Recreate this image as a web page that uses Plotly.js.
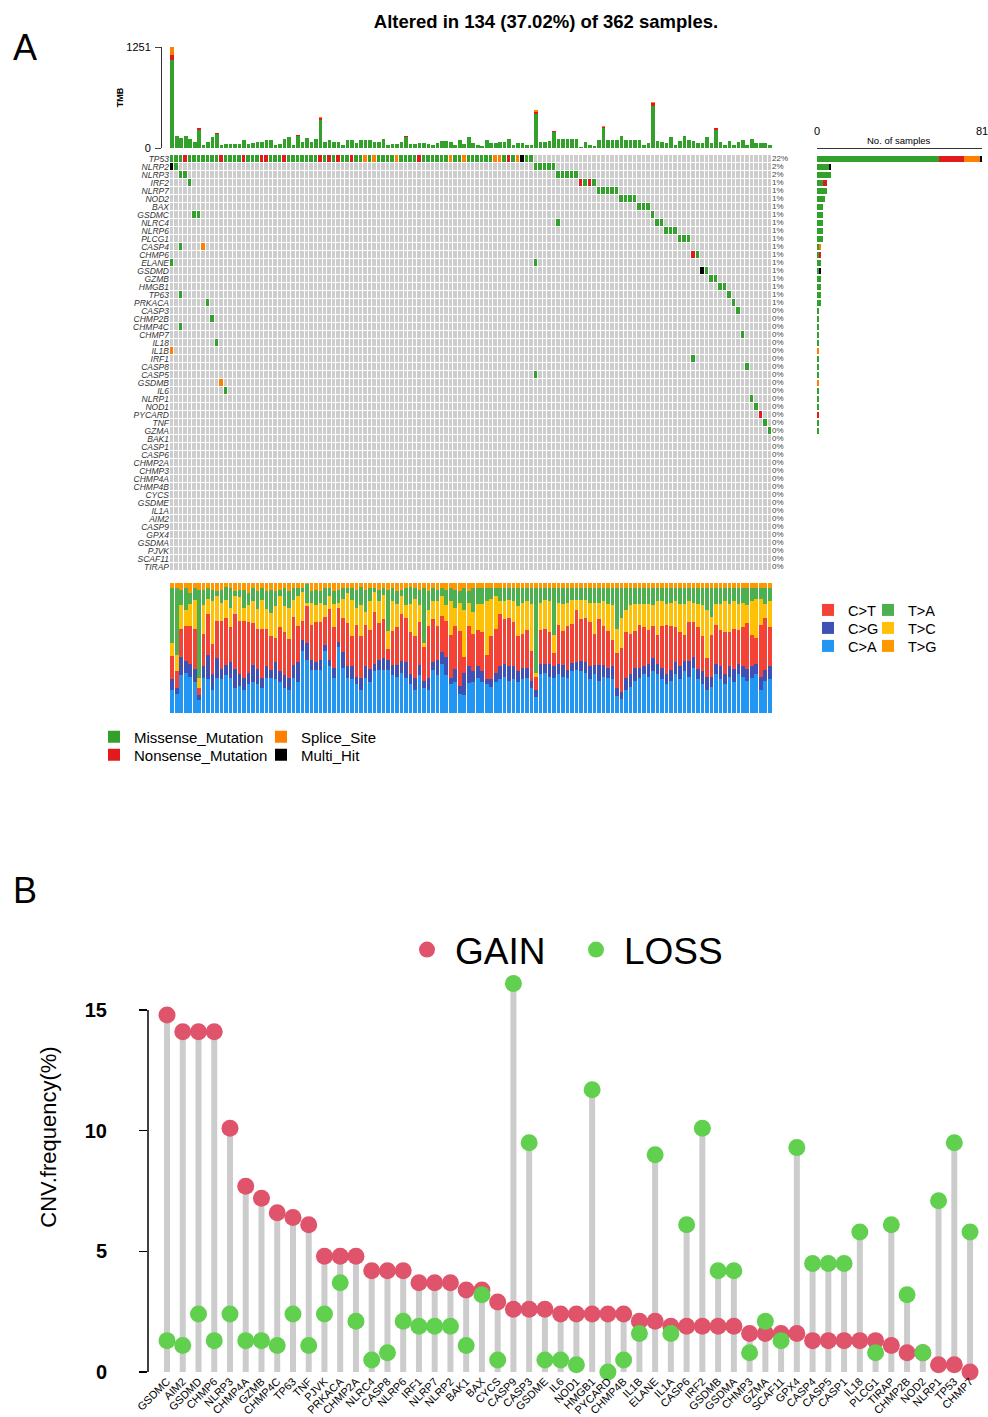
<!DOCTYPE html>
<html><head><meta charset="utf-8">
<script src="https://cdn.plot.ly/plotly-3.0.1.min.js"></script>
<style>html,body{margin:0;padding:0;background:#fff}#chart{width:988px;height:1417px}</style>
</head><body><div id="chart"></div>
<script>
const W = 988, H = 1417;
const px = v => v / W;
const py = v => 1 - v / H;
const FONT = 'Arial, "Liberation Sans", Helvetica, sans-serif';

// ---------------- Panel A data ----------------
const totalSamples = 362;
const genes = ["TP53","NLRP2","NLRP3","IRF2","NLRP7","NOD2","BAX","GSDMC","NLRC4","NLRP6","PLCG1","CASP4","CHMP6","ELANE","GSDMD","GZMB","HMGB1","TP63","PRKACA","CASP3","CHMP2B","CHMP4C","CHMP7","IL18","IL1B","IRF1","CASP8","CASP5","GSDMB","IL6","NLRP1","NOD1","PYCARD","TNF","GZMA","BAK1","CASP1","CASP6","CHMP2A","CHMP3","CHMP4A","CHMP4B","CYCS","GSDME","IL1A","AIM2","CASP9","GPX4","GSDMA","PJVK","SCAF11","TIRAP"];
// per gene: "firstSample:typeCodes" runs (M missense, N nonsense, S splice, H multi-hit)
const geneMutations = [
  "1:" + "MMMNMMMMMM" + "MNMMMMNMMM" + "NNMMMNMMMM" + "MMMNMNMNMM" + "NMMSMSMMMM" + "SMMMMNMMMM" + "MMSMMSMMMM" + "MMSSMNMSHM" + "M",
  "1:HM 82:MMMMM", "3:MM 87:MMMMM", "5:M 92:NMNM", "96:MMMMM", "101:MMMM", "105:MMM",
  "6:MM 108:M", "87:M 109:MM", "111:MMM", "114:MMM", "3:M 8:S", "117:NM", "1:M 82:M",
  "119:HM", "121:MM", "123:MM", "3:M 125:M", "9:M 126:M", "127:M", "10:M", "3:M",
  "128:M", "11:M", "1:S", "117:M", "129:M", "82:M", "12:S", "13:M", "130:M", "131:M",
  "132:N", "133:M", "134:M",
  "", "", "", "", "", "", "", "", "", "", "", "", "", "", "", "", ""
];
const typeNames = ["Missense_Mutation","Nonsense_Mutation","Splice_Site","Multi_Hit"];
const typeKeys = ["M","N","S","H"];
const typeColors = ["#33A02C","#E31A1C","#FF7F00","#000000"];

const tmbTotal = [1251,153,120,149,111,78,244,37,70,140,182,37,50,54,54,54,99,45,58,74,74,103,99,33,50,111,132,33,161,78,120,74,116,380,78,99,78,78,41,99,99,58,99,99,99,70,70,107,33,45,45,74,149,45,45,58,58,50,37,58,83,87,70,37,99,45,132,58,37,25,103,66,66,74,74,107,37,58,58,37,37,471,74,74,87,215,107,107,107,107,116,8,78,37,25,99,273,95,99,99,153,99,99,99,99,37,66,574,91,78,58,140,37,91,153,99,87,66,66,132,58,252,74,37,91,37,78,99,37,107,66,58,58,37];
const tmbNonsenseCols = [1,7,11,29,34,53,82,86,97,101,108,112,122];
const tmbNonsenseVals = [68,22,10,8,25,8,25,12,18,8,30,8,18];
const tmbSpliceCols = [1,34,82,97,108,122];
const tmbSpliceVals = [93,8,20,10,18,8];

// Ti/Tv fractions (%) per altered sample
const titvCA = [18,15,29,31,28,24,10,27,26,18,27,26,29,27,19,21,18,22,24,22,19,27,27,26,24,19,18,27,24,48,41,33,33,33,48,36,27,51,35,27,26,22,18,27,24,32,33,33,33,29,28,31,27,22,18,29,19,18,33,29,38,29,22,24,15,14,23,24,27,24,22,20,24,26,28,24,26,24,26,27,19,12,30,31,28,27,30,28,27,32,33,32,31,26,30,25,28,27,26,13,11,18,20,25,27,30,28,32,30,26,22,25,30,26,32,28,35,26,22,18,20,30,26,22,28,24,30,28,25,27,30,18,25,26];
const titvCG = [8,4,14,9,10,10,4,9,19,12,15,8,8,12,15,9,9,9,13,12,8,9,6,13,8,10,9,10,15,8,13,8,6,8,4,5,8,4,12,9,10,6,9,9,10,6,8,9,8,8,9,9,12,8,9,8,6,9,6,12,9,14,5,10,6,17,13,8,9,8,4,6,7,10,10,12,10,8,9,8,6,6,8,7,10,9,8,9,6,6,6,8,8,10,7,12,9,8,10,6,5,9,10,10,8,6,10,10,8,9,8,8,9,10,8,12,8,8,10,10,8,8,10,8,8,10,8,8,9,9,8,10,8,10];
const titvCT = [18,13,22,27,29,31,5,25,31,23,29,37,36,27,42,41,44,39,32,31,38,29,26,19,34,33,30,37,28,15,28,27,31,29,22,39,31,26,26,33,23,40,32,32,30,40,28,30,8,26,29,36,34,32,32,33,26,40,33,26,28,28,33,33,42,12,31,29,28,30,19,33,34,40,34,36,34,27,26,29,23,10,26,27,24,10,30,26,34,30,40,32,34,34,24,35,30,28,20,27,34,35,31,28,33,30,26,25,22,32,38,34,27,26,20,30,27,32,27,14,32,30,28,32,26,31,26,30,35,24,20,40,40,30];
const titvTC = [10,13,18,12,17,22,8,22,12,33,19,14,14,15,14,18,10,13,17,15,22,15,18,24,24,20,24,13,23,22,3,17,13,15,9,10,18,4,15,23,28,13,24,10,22,15,17,19,14,23,18,14,10,22,29,13,3,12,14,19,15,12,26,14,22,36,18,17,20,22,41,29,26,10,14,14,16,23,24,22,36,3,21,22,24,14,17,21,18,18,8,15,14,15,24,13,19,21,27,19,23,17,22,21,16,18,20,16,26,19,16,18,20,22,24,16,15,18,24,37,14,16,20,24,22,21,20,19,14,26,30,20,11,20];
const titvTA = [42,51,12,17,8,9,68,12,8,9,4,10,10,15,4,6,14,9,10,14,9,14,18,12,5,14,13,9,6,3,14,9,12,9,13,6,10,10,8,4,9,14,14,17,10,3,9,5,32,10,10,5,13,13,8,12,42,15,10,9,6,12,10,14,9,17,9,18,12,12,10,8,6,10,10,9,10,14,11,10,12,65,11,9,10,36,11,12,11,9,9,9,9,11,11,11,10,12,13,31,23,17,13,12,12,12,12,13,10,10,12,11,10,12,12,10,11,12,13,17,22,12,12,10,12,10,12,11,13,10,8,8,12,10];
const titvTG = [4,4,5,4,8,4,5,5,4,5,6,5,3,4,6,5,5,8,4,6,4,6,5,6,5,4,6,4,4,4,1,6,5,6,4,4,6,5,4,4,4,5,3,5,4,4,5,4,5,4,6,5,4,3,4,5,4,6,4,5,4,5,4,5,6,4,6,4,4,4,4,4,4,4,4,4,4,4,4,4,4,4,4,4,4,4,4,4,4,4,4,4,4,4,4,4,4,4,4,4,4,4,4,4,4,4,4,4,4,4,4,4,4,4,4,4,4,4,4,4,4,4,4,4,4,4,4,4,4,4,4,4,4,4];

// ---------------- Panel B data ----------------
const cnvGenes = ["GSDMC","AIM2","GSDMD","CHMP6","NLRP3","CHMP4A","GZMB","CHMP4C","TP63","TNF","PJVK","PRKACA","CHMP2A","NLRC4","CASP8","NLRP6","IRF1","NLRP7","NLRP2","BAK1","BAX","CYCS","CASP9","CASP3","GSDME","IL6","NOD1","HMGB1","PYCARD","CHMP4B","IL1B","ELANE","IL1A","CASP6","IRF2","GSDMB","GSDMA","CHMP3","GZMA","SCAF11","GPX4","CASP4","CASP5","CASP1","IL18","PLCG1","TIRAP","CHMP2B","NOD2","NLRP1","TP53","CHMP7"];
const cnvGain = [14.8,14.1,14.1,14.1,10.1,7.7,7.2,6.6,6.4,6.1,4.8,4.8,4.8,4.2,4.2,4.2,3.7,3.7,3.7,3.4,3.4,2.9,2.6,2.6,2.6,2.4,2.4,2.4,2.4,2.4,2.1,2.1,1.9,1.9,1.9,1.9,1.9,1.6,1.6,1.6,1.6,1.3,1.3,1.3,1.3,1.3,1.1,0.8,0.8,0.3,0.3,0];
const cnvLoss = [1.3,1.1,2.4,1.3,2.4,1.3,1.3,1.1,2.4,1.1,2.4,3.7,2.1,0.5,0.8,2.1,1.9,1.9,1.9,1.1,3.2,0.5,16.1,9.5,0.5,0.5,0.3,11.7,0,0.5,1.6,9.0,1.6,6.1,10.1,4.2,4.2,0.8,2.1,1.3,9.3,4.5,4.5,4.5,5.8,0.8,6.1,3.2,0.8,7.1,9.5,5.8];

// ---------------- derived ----------------
const nSamples = tmbTotal.length;
const sampleIdx = tmbTotal.map((_, i) => i + 1);
const z = genes.map(() => new Array(nSamples).fill(0));
const counts = typeKeys.map(() => new Array(genes.length).fill(0));
const altered = new Set();
geneMutations.forEach((spec, gi) => {
  spec.split(" ").filter(Boolean).forEach(tok => {
    const [start, codes] = tok.split(":");
    [...codes].forEach((c, k) => {
      const s = +start + k, t = typeKeys.indexOf(c);
      z[gi][s - 1] = t + 1; counts[t][gi] += 1; altered.add(s);
    });
  });
});
const geneTotals = genes.map((_, gi) => counts.reduce((a, c) => a + c[gi], 0));
const pctLabels = geneTotals.map(c => Math.round(c / totalSamples * 100) + "%");
const geneIdx = genes.map((_, i) => i);

const tmbNon = new Array(nSamples).fill(0);
tmbNonsenseCols.forEach((c, i) => tmbNon[c - 1] = tmbNonsenseVals[i]);
const tmbSpl = new Array(nSamples).fill(0);
tmbSpliceCols.forEach((c, i) => tmbSpl[c - 1] = tmbSpliceVals[i]);
const tmbMis = tmbTotal.map((t, i) => t - tmbNon[i] - tmbSpl[i]);

// stacking order bottom -> top; legend slot position (px) is style only
const titvSeries = [
  {name: "C>A", v: titvCA, color: "#2196F3", pos: [830, 646]},
  {name: "C>G", v: titvCG, color: "#3F51B5", pos: [830, 628]},
  {name: "C>T", v: titvCT, color: "#F44336", pos: [830, 610]},
  {name: "T>C", v: titvTC, color: "#FFC107", pos: [890, 628]},
  {name: "T>A", v: titvTA, color: "#4CAF50", pos: [890, 610]},
  {name: "T>G", v: titvTG, color: "#FF9800", pos: [890, 646]}
];
const mutLegendPos = [[116, 737], [116, 755], [283, 737], [283, 755]];
const titvSums = sampleIdx.map((_, i) => titvSeries.reduce((a, s) => a + s.v[i], 0));

const traces = [];
const extraLegends = {};
let legendCounter = 2;
function slotLegend(pos, size) {
  const key = "legend" + legendCounter++;
  extraLegends[key] = {x: px(pos[0] - 22), xanchor: "left", y: py(pos[1]), yanchor: "middle",
                       font: {size: size}, bgcolor: "rgba(0,0,0,0)", itemwidth: 30};
  return key;
}

// TMB stacked bars
[[tmbMis, 0], [tmbNon, 1], [tmbSpl, 2]].forEach(([arr, t]) => traces.push({
  type: "bar", x: sampleIdx, y: arr, xaxis: "x", yaxis: "y",
  marker: {color: typeColors[t], line: {width: 0}}, showlegend: false, hoverinfo: "skip"
}));
// oncoplot grid
traces.push({
  type: "heatmap", x: sampleIdx, y: geneIdx, z: z, xaxis: "x2", yaxis: "y2",
  zmin: 0, zmax: 4, showscale: false, xgap: 1, ygap: 1, hoverinfo: "skip",
  colorscale: [[0, "#CDCDCD"], [0.125, "#CDCDCD"], [0.125, typeColors[0]], [0.375, typeColors[0]],
               [0.375, typeColors[1]], [0.625, typeColors[1]], [0.625, typeColors[2]], [0.875, typeColors[2]],
               [0.875, typeColors[3]], [1, typeColors[3]]]
});
// percentages
traces.push({
  type: "scatter", mode: "text", x: genes.map(() => nSamples + 0.5), y: geneIdx, text: pctLabels,
  textposition: "middle right", textfont: {size: 8, color: "#444"}, xaxis: "x2", yaxis: "y2",
  cliponaxis: false, showlegend: false, hoverinfo: "skip"
});
// right bar: No. of samples
typeNames.forEach((nm, t) => traces.push({
  type: "bar", orientation: "h", x: counts[t], y: geneIdx, name: nm, xaxis: "x3", yaxis: "y3",
  marker: {color: typeColors[t], line: {width: 0}}, legend: slotLegend(mutLegendPos[t], 15),
  hoverinfo: "skip"
}));
// Ti/Tv
titvSeries.forEach(s => traces.push({
  type: "bar", x: sampleIdx, y: s.v.map((v, i) => v / titvSums[i] * 100), name: s.name,
  xaxis: "x4", yaxis: "y4", marker: {color: s.color, line: {width: 0}},
  legend: slotLegend(s.pos, 14.5), hoverinfo: "skip"
}));
// Panel B stems
traces.push({
  type: "scatter", mode: "lines", xaxis: "x5", yaxis: "y5",
  x: cnvGenes.flatMap(g => [g, g, null]),
  y: cnvGenes.flatMap((g, i) => [0, Math.max(cnvGain[i], cnvLoss[i]), null]),
  line: {color: "#CCCCCC", width: 6}, showlegend: false, hoverinfo: "skip"
});
traces.push({
  type: "scatter", mode: "markers", name: "GAIN", x: cnvGenes, y: cnvGain, xaxis: "x5", yaxis: "y5",
  marker: {color: "#DF536B", size: 17}, cliponaxis: false, legend: "legend"
});
traces.push({
  type: "scatter", mode: "markers", name: "LOSS", x: cnvGenes, y: cnvLoss, xaxis: "x5", yaxis: "y5",
  marker: {color: "#61D04F", size: 17}, cliponaxis: false, legend: "legend"
});

const gridX = [px(170), px(772)];
const gridY = [py(571), py(155)];
const noTicks = {visible: false, showgrid: false, zeroline: false};
const pctAltered = (altered.size / totalSamples * 100).toFixed(2);

const layout = Object.assign({
  width: W, height: H, margin: {l: 0, r: 0, t: 0, b: 0},
  paper_bgcolor: "#fff", plot_bgcolor: "rgba(0,0,0,0)",
  font: {family: FONT, color: "#000"},
  barmode: "stack", bargap: 0.2, hovermode: false, showlegend: true,
  title: {text: `<b>Altered in ${altered.size} (${pctAltered}%) of ${totalSamples} samples.</b>`,
          x: px(546), xanchor: "center", y: py(22), yanchor: "middle", font: {size: 18.5}},
  xaxis: Object.assign({domain: gridX, range: [0.5, nSamples + 0.5], anchor: "y"}, noTicks),
  yaxis: {domain: [py(148), py(47)], range: [0, 1251], anchor: "free", position: px(161),
          tickvals: [0, 1251], ticks: "outside", ticklen: 6, ticklabelstandoff: 2, showline: true, linecolor: "#333",
          tickfont: {size: 11}, showgrid: false, zeroline: false,
          title: {text: "<b>TMB</b>", font: {size: 9}, standoff: 0}},
  xaxis2: Object.assign({domain: gridX, range: [0.5, nSamples + 0.5], anchor: "y2"}, noTicks),
  yaxis2: {domain: gridY, range: [genes.length - 0.5, -0.5], anchor: "x2",
           tickvals: geneIdx, ticktext: genes.map(g => "<i>" + g + "</i>"),
           tickfont: {size: 8.5, color: "#333"}, ticks: "", showgrid: false, zeroline: false, showline: false},
  xaxis3: {domain: [px(817), px(982)], range: [0, 81], side: "top", anchor: "free", position: py(148),
           tickvals: [0, 81], ticks: "inside", ticklen: 5, showline: true, linecolor: "#333",
           ticklabelstandoff: 9, ticklabeloverflow: "allow",
           tickfont: {size: 11}, showgrid: false, zeroline: false},
  yaxis3: Object.assign({domain: gridY, range: [genes.length - 0.5, -0.5], anchor: "x3"}, noTicks),
  xaxis4: Object.assign({domain: gridX, range: [0.5, nSamples + 0.5], anchor: "y4"}, noTicks),
  yaxis4: Object.assign({domain: [py(713), py(583)], range: [0, 100], anchor: "x4"}, noTicks),
  xaxis5: {domain: [px(148), px(985)], range: [-1.207, 51.95], type: "category", anchor: "y5",
           categoryorder: "array", categoryarray: cnvGenes, tickmode: "array", tickvals: cnvGenes, ticktext: cnvGenes,
           tickangle: -45, tickfont: {size: 11, color: "#000"}, ticks: "", showline: false,
           showgrid: false, zeroline: false},
  yaxis5: {domain: [py(1372), py(902)], range: [0, 19.48], anchor: "x5",
           tickvals: [0, 5, 10, 15], ticks: "outside", ticklen: 8, tickwidth: 1.5, tickcolor: "#000",
           ticklabelstandoff: 28, tickfont: {size: 20, weight: "bold", color: "#000"},
           showline: false, showgrid: false, zeroline: false,
           title: {text: "CNV.frequency(%)", font: {size: 22}, standoff: 22}},
  legend: {orientation: "h", x: px(399), xanchor: "left", y: py(950), yanchor: "middle",
           font: {size: 37}, bgcolor: "rgba(0,0,0,0)", traceorder: "normal",
           itemwidth: 46, entrywidth: 108, entrywidthmode: "pixels"},
  shapes: [{type: "line", xref: "paper", yref: "y5", x0: px(148), x1: px(148), y0: 0, y1: 15,
            line: {color: "#000", width: 1.5}}],
  annotations: [
    {text: "A", x: px(25), y: py(47), xref: "paper", yref: "paper", xanchor: "center", yanchor: "middle",
     showarrow: false, font: {size: 36}},
    {text: "B", x: px(25), y: py(890), xref: "paper", yref: "paper", xanchor: "center", yanchor: "middle",
     showarrow: false, font: {size: 36}},
    {text: "No. of samples", x: px(899), y: py(141), xref: "paper", yref: "paper", xanchor: "center",
     yanchor: "middle", showarrow: false, font: {size: 9.5}}
  ]
}, extraLegends);

Plotly.newPlot("chart", traces, layout, {staticPlot: true, displayModeBar: false});
</script>
</body></html>
